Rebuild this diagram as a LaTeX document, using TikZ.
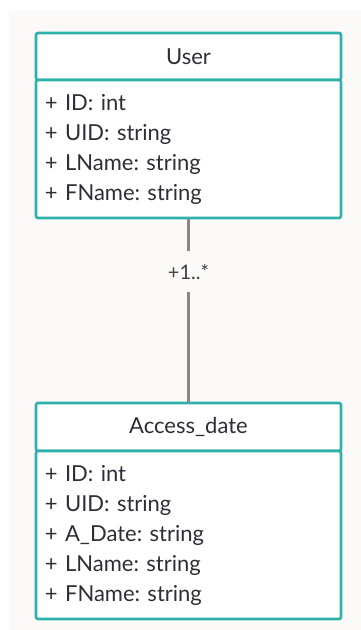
\documentclass[tikz,border=0pt]{standalone}
\usepackage{fontspec}
\setmainfont{Lato}
\usetikzlibrary{positioning}
\definecolor{umlteal}{HTML}{2DB2AB}
\definecolor{umlbg}{HTML}{FBFAF9}
\definecolor{umltext}{HTML}{2E2E38}
\definecolor{umlline}{HTML}{888888}
\frenchspacing
\tikzset{
  classbox/.style={draw=umlteal,line width=2.6pt,fill=white,rounded corners=2pt,
    outer sep=0pt,minimum width=305pt,text=umltext},
  classhead/.style={classbox,inner sep=0pt,font=\fontsize{22}{26}\selectfont},
  classbody/.style={classbox,text width=287pt,inner xsep=9pt,inner ysep=0pt,
    align=left,font=\fontsize{22}{30}\selectfont},
}
\begin{document}
\begin{tikzpicture}[x=1pt,y=-1pt]
  \useasboundingbox (0,0) rectangle (361,630);
  \fill[umlbg] (9,11) rectangle (361,630);
  % User
  \node[classhead,minimum height=47pt] (userhead) at (188.5,56.5) {User};
  \node[classbody,minimum height=138pt,below=0pt of userhead] (userbody)
    {+ ID: int\\+ UID: string\\+ LName: string\\+ FName: string};
  % Access_date
  \node[classhead,minimum height=48pt] (accesshead) at (188.5,427) {Access\_date};
  \node[classbody,minimum height=168pt,below=0pt of accesshead] (accessbody)
    {+ ID: int\\+ UID: string\\+ A\_Date: string\\+ LName: string\\+ FName: string};
  % association
  \draw[umlline,line width=2.2pt] (userbody) -- (accesshead)
    node[pos=0.29,fill=umlbg,minimum height=41pt,inner xsep=2pt,text=black!75,
      font=\fontsize{20}{22}\selectfont] (mult) {+1..*};
\end{tikzpicture}
\end{document}
